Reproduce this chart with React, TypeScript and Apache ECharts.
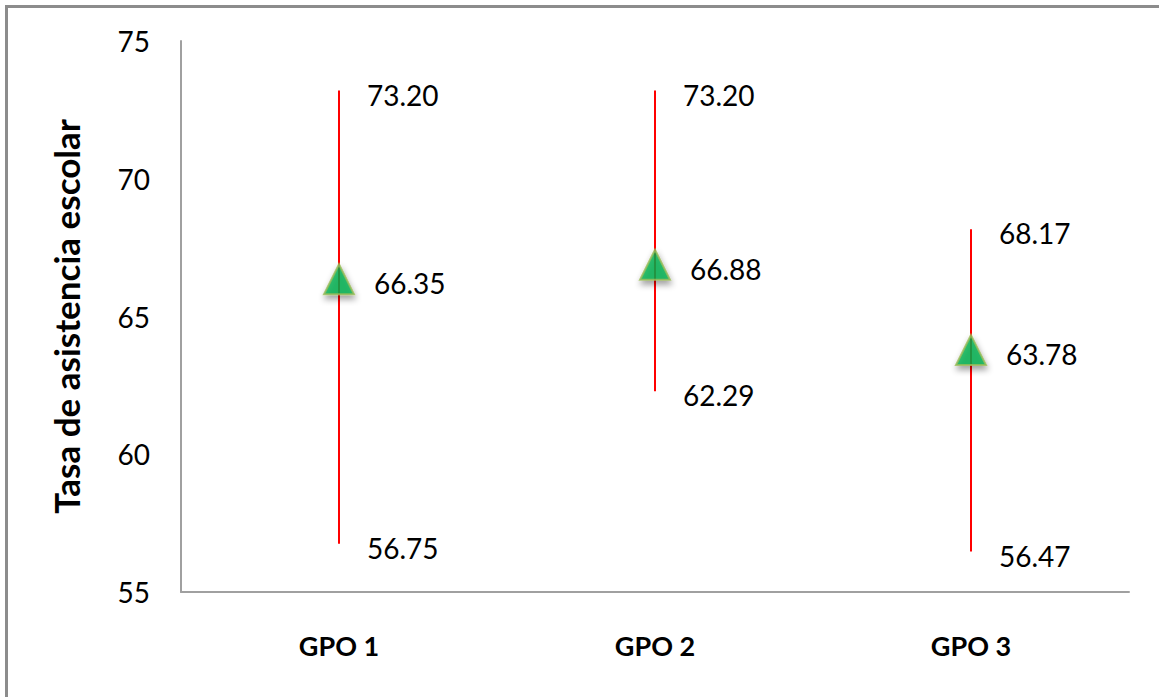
import React, { useEffect, useRef } from "react";
import * as echarts from "echarts";

const categories = ["GPO 1", "GPO 2", "GPO 3"];
const means = [66.35, 66.88, 63.78];
const lows = [56.75, 62.29, 56.47];
const highs = [73.2, 73.2, 68.17];
const yTicks = { min: 55, max: 75, interval: 5 };
const yAxisTitle = "Tasa de asistencia escolar";

const FONT = "Lato, 'Noto Sans', sans-serif";

export default function App() {
  const ref = useRef<HTMLDivElement>(null);
  useEffect(() => {
    if (!ref.current) return;
    const chart = echarts.init(ref.current, undefined, { renderer: "svg" });
    const errData = categories.map((c, i) => [i, lows[i], highs[i], means[i]]);
    const txt = (v: number, p: number[], dx: number) => ({
      type: "text",
      x: p[0] + dx,
      y: p[1] + 4,
      z2: 10,
      style: {
        text: v.toFixed(2),
        fill: "#000",
        fontFamily: FONT,
        fontSize: 28,
        align: "left",
        verticalAlign: "middle",
      },
    });
    chart.setOption({
      animation: false,
      backgroundColor: "#ffffff",
      graphic: [
        {
          type: "rect",
          shape: { x: 6.5, y: 6.5, width: 1300, height: 900 },
          style: { fill: "none", stroke: "#8c8c8c", lineWidth: 3 },
          silent: true,
        },
      ],
      grid: { left: 181, right: 30, top: 41, bottom: 105, containLabel: false },
      xAxis: {
        type: "category",
        data: categories,
        axisLine: { show: true, lineStyle: { color: "#a0a0a0", width: 2 } },
        axisTick: { show: false },
        axisLabel: {
          color: "#000",
          fontFamily: FONT,
          fontWeight: "bold",
          fontSize: 27,
          margin: 40,
        },
        splitLine: { show: false },
      },
      yAxis: {
        type: "value",
        min: yTicks.min,
        max: yTicks.max,
        interval: yTicks.interval,
        name: yAxisTitle,
        nameLocation: "middle",
        nameGap: 98,
        nameTextStyle: {
          color: "#000",
          fontFamily: FONT,
          fontWeight: "bold",
          fontSize: 35,
        },
        axisLine: { show: true, lineStyle: { color: "#a0a0a0", width: 2 } },
        axisTick: { show: false },
        axisLabel: {
          color: "#000",
          fontFamily: FONT,
          fontSize: 28,
          margin: 31,
        },
        splitLine: { show: false },
      },
      series: [
        {
          type: "custom",
          z: 1,
          data: errData,
          renderItem: (params: any, api: any) => {
            const x = api.value(0);
            const lo = api.value(1);
            const hi = api.value(2);
            const pLo = api.coord([x, lo]);
            const pHi = api.coord([x, hi]);
            return {
              type: "group",
              children: [
                {
                  type: "line",
                  shape: { x1: pHi[0], y1: pHi[1], x2: pLo[0], y2: pLo[1] },
                  style: { stroke: "#ff0000", lineWidth: 2 },
                },
                txt(hi, pHi, 28),
                txt(lo, pLo, 28),
              ],
            };
          },
        },
        {
          type: "scatter",
          z: 5,
          data: means,
          symbol: "triangle",
          symbolSize: [30, 30],
          itemStyle: {
            color: "#00b050",
            borderColor: "#9bbb59",
            borderWidth: 2,
            shadowBlur: 6,
            shadowColor: "rgba(0,0,0,0.45)",
            shadowOffsetY: 4,
            shadowOffsetX: 1,
          },
        },
        {
          type: "custom",
          z: 6,
          data: errData,
          renderItem: (params: any, api: any) => {
            const x = api.value(0);
            const m = api.value(3);
            const p = api.coord([x, m]);
            return txt(m, p, 35);
          },
        },
      ],
    });
    return () => chart.dispose();
  }, []);
  return (
    <div
      ref={ref}
      style={{ position: "absolute", left: 0, top: 0, width: 1159, height: 697 }}
    />
  );
}
